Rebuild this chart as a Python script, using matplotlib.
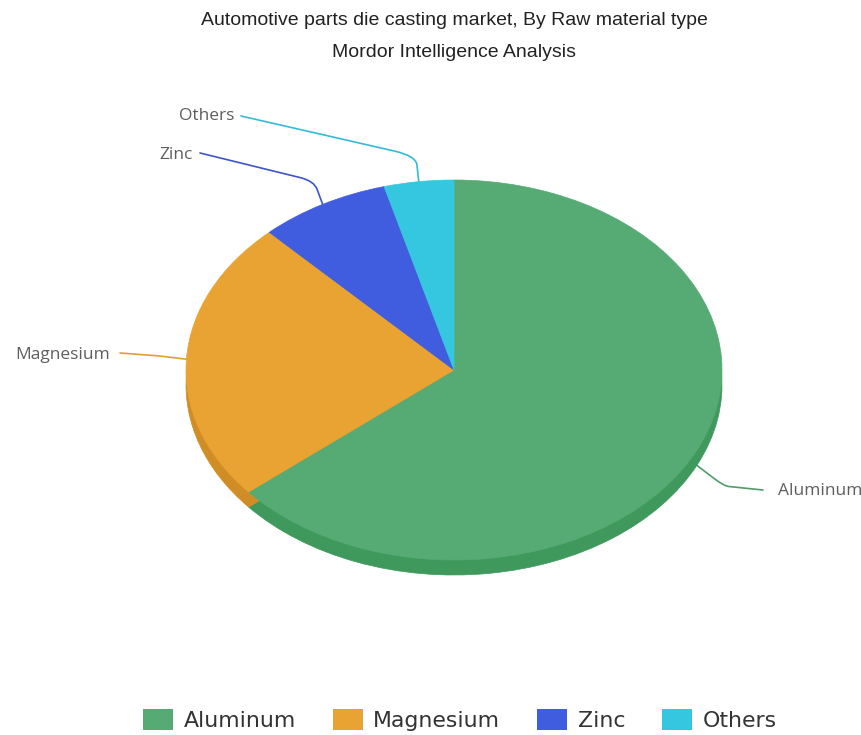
import numpy as np
import matplotlib
matplotlib.use('Agg')
import matplotlib.pyplot as plt
from matplotlib.patches import Patch, PathPatch
from matplotlib.path import Path

# market share by raw material (percent)
labels = ['Aluminum', 'Magnesium', 'Zinc', 'Others']
values = [63.9, 24.0, 7.9, 4.2]

top_colors = ['#56aa73', '#e9a332', '#415ddf', '#36c7e0']
side_colors = ['#3f985c', '#d08d25', '#2f48c0', '#26a9c2']
line_colors = ['#4f9d69', '#e0a030', '#3d55c8', '#33bcd6']

W, H = 861, 735
# pie geometry in pixels: centre, radii and thickness of the tilted disc
cx_px, cy_px = 454, 370
rx, ry = 268, 190
depth = 15
k = rx / ry  # y stretch so a circle of radius rx becomes the ellipse


def to_data(x, y):
    """pixel position (origin top left) -> data coords of the stretched axes"""
    return x, (H - y) * k


# where each label sits and where its connector bends
label_pos = [(778, 491), (110, 355), (193, 155), (234, 116)]
line_end = [(763, 490), (120, 353), (200, 153), (241, 116)]
line_elbow = [(724, 486), (160, 356), (314, 181), (416, 156)]
label_ha = ['left', 'right', 'right', 'right']

fig = plt.figure(figsize=(W / 100, H / 100), dpi=100)
ax = fig.add_axes([0, 0, 1, 1])

cx, cy = to_data(cx_px, cy_px)

# side of the disc: same pie shifted down, darker colours
side, _ = ax.pie(values, colors=side_colors, startangle=90, counterclock=False,
                 radius=rx, center=(cx, cy - depth * k))
for w in side:
    w.set_edgecolor(w.get_facecolor())
    w.set_linewidth(0.5)
    w.set_zorder(2)

top, _ = ax.pie(values, colors=top_colors, startangle=90, counterclock=False,
                radius=rx, center=(cx, cy))
for w in top:
    w.set_edgecolor(w.get_facecolor())
    w.set_linewidth(0.5)
    w.set_zorder(3)

ax.set_aspect('auto')
ax.set_xlim(0, W)
ax.set_ylim(0, H * k)
ax.axis('off')

# connectors + labels
total = float(sum(values))
cum = 0.0
for i, v in enumerate(values):
    theta = 2 * np.pi * (cum + v / 2.) / total
    cum += v
    sx = cx_px + rx * np.sin(theta)
    sy = cy_px - ry * np.cos(theta)
    if np.cos(theta) < 0:
        # lower half: start from the bottom rim of the side
        sy += depth
    ex, ey = line_end[i]
    bx, by = line_elbow[i]
    # round the corner a bit
    a = (bx + 0.35 * (sx - bx), by + 0.35 * (sy - by))
    b = (bx + 0.12 * (ex - bx), by + 0.12 * (ey - by))
    pts = [(sx, sy), a, (bx, by), b, (ex, ey)]
    codes = [Path.MOVETO, Path.LINETO, Path.CURVE3, Path.CURVE3, Path.LINETO]
    path = Path([to_data(*p) for p in pts], codes)
    ax.add_patch(PathPatch(path, facecolor='none', edgecolor=line_colors[i],
                           lw=1.2, zorder=1, capstyle='round'))
    tx, ty = to_data(*label_pos[i])
    ax.text(tx, ty, labels[i], ha=label_ha[i], va='center', fontsize=12.5,
            family='Open Sans', color='#5e5e5e')

# titles are centred over the pie, not the figure
title_x = cx_px / W
fig.text(title_x, 1 - 20.5 / H, 'Automotive parts die casting market, By Raw material type',
         ha='center', va='center', fontsize=14, family='Liberation Sans', color='#222222')
fig.text(title_x, 1 - 52.5 / H, 'Mordor Intelligence Analysis',
         ha='center', va='center', fontsize=14, family='Liberation Sans', color='#222222')

handles = [Patch(facecolor=c, edgecolor='none') for c in top_colors]
leg = fig.legend(handles, labels, loc='center', bbox_to_anchor=(460 / W, 1 - 720 / H),
                 ncol=4, frameon=False, prop={'family': 'DejaVu Sans', 'size': 15.8},
                 handlelength=1.35, handleheight=1.05, handletextpad=0.48,
                 columnspacing=1.7)
for t in leg.get_texts():
    t.set_color('#333333')

fig.savefig('out.png', dpi=100)
